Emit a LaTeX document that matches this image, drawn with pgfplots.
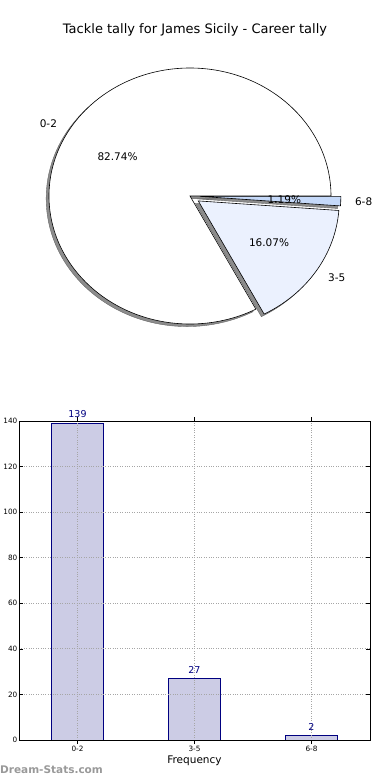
\documentclass[border=0pt]{standalone}
\usepackage{pgfplots}
\pgfplotsset{compat=1.18}
\usepackage{pgfplotstable}
\usepackage{fontspec}
\setmainfont{DejaVu Sans}
\definecolor{barfill}{RGB}{204,204,229}
\definecolor{navy}{RGB}{0,0,128}
\definecolor{sliceb}{RGB}{235,241,254}
\definecolor{slicec}{RGB}{197,217,249}
\definecolor{shad}{RGB}{140,140,140}
\pgfplotstableread{
label value
0-2 139
3-5 27
6-8 2
}\tally
\begin{document}
\begin{tikzpicture}
\useasboundingbox (0pt,0pt) rectangle (390pt,-780pt);
\pgfplotstablegetelem{0}{value}\of\tally \pgfmathsetmacro{\va}{\pgfplotsretval}
\pgfplotstablegetelem{1}{value}\of\tally \pgfmathsetmacro{\vb}{\pgfplotsretval}
\pgfplotstablegetelem{2}{value}\of\tally \pgfmathsetmacro{\vc}{\pgfplotsretval}
\pgfmathsetmacro{\tot}{\va+\vb+\vc}
\pgfmathsetmacro{\aS}{0}
\pgfmathsetmacro{\aE}{360*(\va/\tot)}
\pgfmathsetmacro{\bS}{\aE}
\pgfmathsetmacro{\bE}{\bS+360*(\vb/\tot)}
\pgfmathsetmacro{\cS}{\bE}
\pgfmathsetmacro{\cE}{360}
\pgfmathsetmacro{\am}{(\aS+\aE)/2}
\pgfmathsetmacro{\bm}{(\bS+\bE)/2}
\pgfmathsetmacro{\cm}{(\cS+\cE)/2}
% explode offsets
\pgfmathsetmacro{\bx}{0.07*cos(\bm)}
\pgfmathsetmacro{\by}{0.07*sin(\bm)}
\pgfmathsetmacro{\cx}{0.07*cos(\cm)}
\pgfmathsetmacro{\cy}{0.07*sin(\cm)}
% start points
\pgfmathsetmacro{\aPx}{cos(\aS)}
\pgfmathsetmacro{\aPy}{sin(\aS)}
\pgfmathsetmacro{\bPx}{\bx+cos(\bS)}
\pgfmathsetmacro{\bPy}{\by+sin(\bS)}
\pgfmathsetmacro{\cPx}{\cx+cos(\cS)}
\pgfmathsetmacro{\cPy}{\cy+sin(\cS)}
% label positions
\pgfmathsetmacro{\aLx}{1.1*cos(\am)}
\pgfmathsetmacro{\aLy}{1.1*sin(\am)}
\pgfmathsetmacro{\aQx}{0.6*cos(\am)}
\pgfmathsetmacro{\aQy}{0.6*sin(\am)}
\pgfmathsetmacro{\bLx}{\bx+1.1*cos(\bm)}
\pgfmathsetmacro{\bLy}{\by+1.1*sin(\bm)}
\pgfmathsetmacro{\bQx}{\bx+0.6*cos(\bm)}
\pgfmathsetmacro{\bQy}{\by+0.6*sin(\bm)}
\pgfmathsetmacro{\cLx}{\cx+1.1*cos(\cm)}
\pgfmathsetmacro{\cLy}{\cy+1.1*sin(\cm)}
\pgfmathsetmacro{\cQx}{\cx+0.6*cos(\cm)}
\pgfmathsetmacro{\cQy}{\cy+0.6*sin(\cm)}
\pgfmathsetmacro{\pa}{100*(\va/\tot)}
\pgfmathsetmacro{\pb}{100*(\vb/\tot)}
\pgfmathsetmacro{\pc}{100*(\vc/\tot)}
\pgfkeys{/pgf/number format/.cd, fixed, fixed zerofill, precision=2, assume math mode=true}

\node[font=\fontsize{13}{15}\selectfont] at (195pt,-30pt) {Tackle tally for James Sicily - Career tally};

\begin{axis}[at={(190pt,-196pt)}, anchor=center, scale only axis,
  width=282pt, height=256pt, xmin=-1, xmax=1, ymin=-1, ymax=1,
  hide axis, clip=false]
% shadows
\fill[shad, draw=black!60, line width=0.4pt, shift={(axis direction cs:-0.02,-0.02)}]
  (axis cs:0,0) -- (axis cs:\aPx,\aPy) arc[start angle=\aS, end angle=\aE, x radius=141pt, y radius=128pt] -- cycle;
\fill[shad, draw=black!60, line width=0.4pt, shift={(axis direction cs:-0.02,-0.02)}]
  (axis cs:\bx,\by) -- (axis cs:\bPx,\bPy) arc[start angle=\bS, end angle=\bE, x radius=141pt, y radius=128pt] -- cycle;
\fill[shad, draw=black!60, line width=0.4pt, shift={(axis direction cs:-0.02,-0.02)}]
  (axis cs:\cx,\cy) -- (axis cs:\cPx,\cPy) arc[start angle=\cS, end angle=\cE, x radius=141pt, y radius=128pt] -- cycle;
% wedges
\filldraw[fill=white, draw=black, line width=0.6pt]
  (axis cs:0,0) -- (axis cs:\aPx,\aPy) arc[start angle=\aS, end angle=\aE, x radius=141pt, y radius=128pt] -- cycle;
\filldraw[fill=sliceb, draw=black, line width=0.6pt]
  (axis cs:\bx,\by) -- (axis cs:\bPx,\bPy) arc[start angle=\bS, end angle=\bE, x radius=141pt, y radius=128pt] -- cycle;
\filldraw[fill=slicec, draw=black, line width=0.6pt]
  (axis cs:\cx,\cy) -- (axis cs:\cPx,\cPy) arc[start angle=\cS, end angle=\cE, x radius=141pt, y radius=128pt] -- cycle;
% labels
\node[anchor=east, inner sep=0pt, font=\fontsize{10.5}{12}\selectfont] at (axis cs:\aLx,\aLy) {0-2};
\node[anchor=west, inner sep=0pt, font=\fontsize{10.5}{12}\selectfont] at (axis cs:\bLx,\bLy) {3-5};
\node[anchor=west, inner sep=0pt, font=\fontsize{10.5}{12}\selectfont] at (axis cs:\cLx,\cLy) {6-8};
\node[inner sep=0pt, font=\fontsize{10.5}{12}\selectfont] at (axis cs:\aQx,\aQy) {\pgfmathprintnumber{\pa}\%};
\node[inner sep=0pt, font=\fontsize{10.5}{12}\selectfont] at (axis cs:\bQx,\bQy) {\pgfmathprintnumber{\pb}\%};
\node[inner sep=0pt, font=\fontsize{10.5}{12}\selectfont] at (axis cs:\cQx,\cQy) {\pgfmathprintnumber{\pc}\%};
\end{axis}

\begin{axis}[at={(19pt,-421pt)}, anchor=north west, scale only axis,
  width=351pt, height=319pt,
  xmin=-0.5, xmax=2.5, ymin=0, ymax=140,
  xtick={0,1,2}, xticklabels={0-2,3-5,6-8},
  ytick={0,20,...,140},
  /pgf/number format/.cd, fixed, precision=0, assume math mode=true, /pgfplots/.cd,
  grid=major, grid style={dotted, black!35, line width=0.9pt},
  tick align=inside, tick pos=both, major tick length=4pt,
  every tick/.style={black, line width=0.5pt},
  axis line style={line width=0.8pt},
  axis on top,
  tick label style={font=\fontsize{7.3}{8}\selectfont, inner sep=1.5pt},
  xlabel={Frequency},
  xlabel style={font=\fontsize{10.5}{12}\selectfont, inner sep=1pt, yshift=-2pt},
  ybar, bar width=0.45,
  nodes near coords,
  nodes near coords style={font=\fontsize{9.5}{11}\selectfont, text=navy, inner sep=1pt, yshift=4pt},
]
\addplot[fill=barfill, draw=navy, line width=0.7pt] table[x expr=\coordindex, y=value] {\tally};
\end{axis}

\node[anchor=west, inner sep=0pt, text=black!40, font=\bfseries\fontsize{10.5}{12}\selectfont] at (0pt,-770pt) {Dream-Stats.com};
\end{tikzpicture}
\end{document}
